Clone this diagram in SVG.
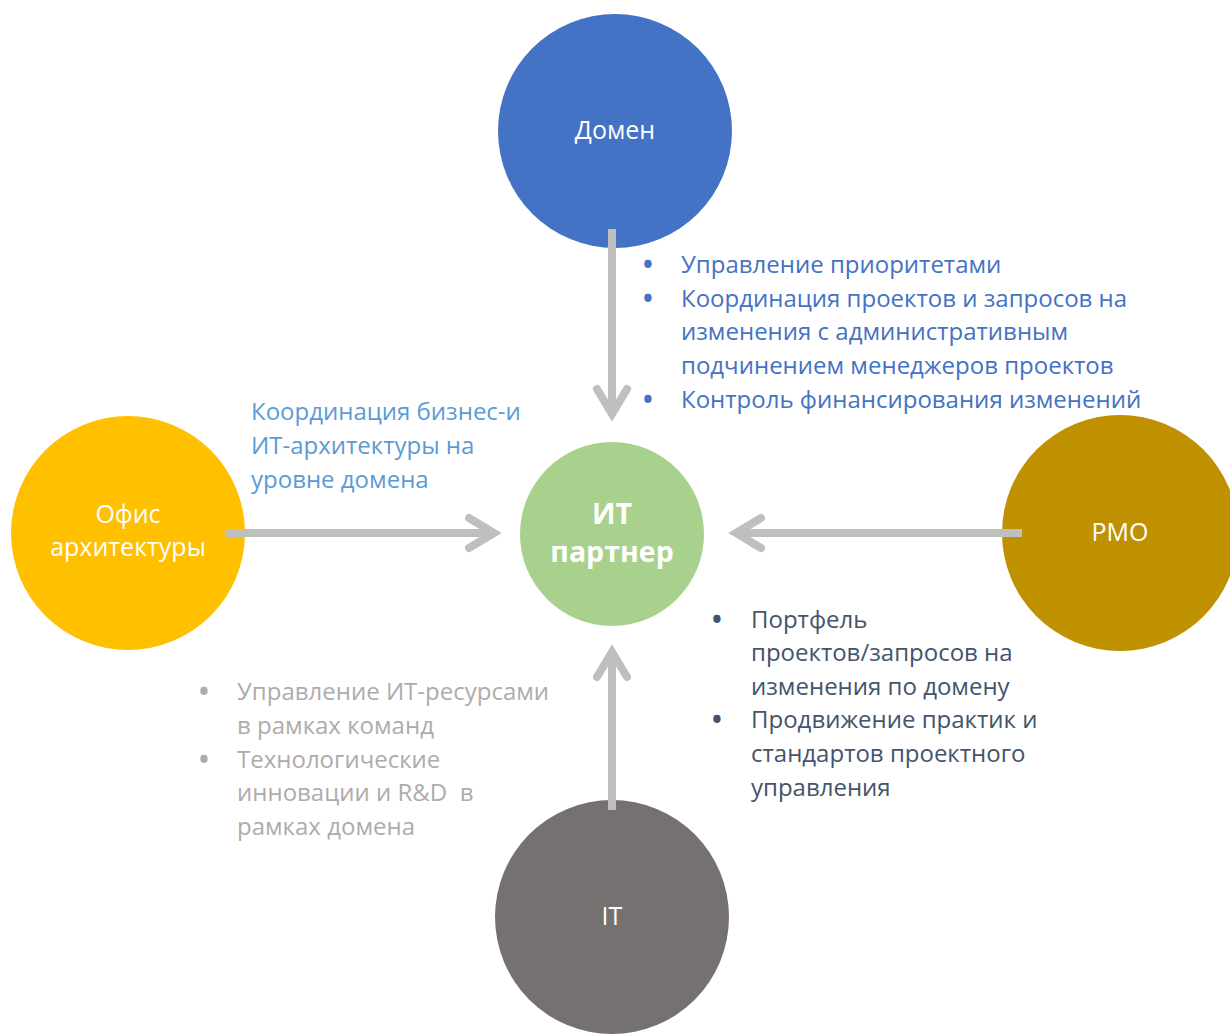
<svg xmlns="http://www.w3.org/2000/svg" width="1230" height="1036" viewBox="0 0 1230 1036">
<style>
text{font-family:"Open Sans","Noto Sans",sans-serif;}
.lbl{fill:#fff;font-size:25px;text-anchor:middle;}
.dom{fill:#4472C4;font-size:24px;}
.arc{fill:#5B9BD5;font-size:24px;}
.pmo{fill:#44546A;font-size:24px;}
.it{fill:#AFABAB;font-size:24px;}
.b{font-size:26px;font-weight:bold;}
.arr{stroke:#BFBFBF;stroke-width:8;fill:none;}
.head{stroke:#BFBFBF;stroke-width:8;fill:none;stroke-linecap:round;stroke-linejoin:miter;}
</style>
<rect width="1230" height="1036" fill="#fff"/>
<g id="node-domain"><circle cx="615" cy="131" r="117" fill="#4472C4"/><text class="lbl" x="615" y="139">Домен</text></g>
<g id="node-arch"><circle cx="128" cy="533" r="117" fill="#FFC000"/><text class="lbl" x="128" y="523">Офис</text><text class="lbl" x="128" y="556">архитектуры</text></g>
<g id="node-pmo"><circle cx="1120" cy="533" r="118" fill="#BF9000"/><text class="lbl" x="1120" y="541">PMO</text></g>
<g id="node-it"><circle cx="612" cy="917" r="117" fill="#767171"/><text class="lbl" x="612" y="925">IT</text></g>
<g id="node-partner"><circle cx="612" cy="534" r="92" fill="#A9D18E"/><text x="612" y="524" fill="#fff" font-size="28.5" font-weight="bold" text-anchor="middle">ИТ</text><text x="612" y="562" fill="#fff" font-size="28.5" font-weight="bold" text-anchor="middle">партнер</text></g>
<g id="connectors">
<line class="arr" x1="612" y1="229" x2="612" y2="414"/>
<polyline class="head" points="597,389 612,414 627,389"/>
<line class="arr" x1="225" y1="533" x2="494" y2="533"/>
<polyline class="head" points="469,518 494,533 469,548"/>
<line class="arr" x1="1022" y1="533" x2="736" y2="533"/>
<polyline class="head" points="761,518 736,533 761,548"/>
<line class="arr" x1="612" y1="810" x2="612" y2="652"/>
<polyline class="head" points="597,677 612,652 627,677"/>
</g>
<g id="text-domain">
<text class="dom b" x="643" y="274">•</text><text class="dom" x="681" y="273">Управление приоритетами</text>
<text class="dom b" x="643" y="308">•</text><text class="dom" x="681" y="307">Координация проектов и запросов на</text>
<text class="dom" x="681" y="340">изменения с административным</text>
<text class="dom" x="681" y="374">подчинением менеджеров проектов</text>
<text class="dom b" x="643" y="409">•</text><text class="dom" x="681" y="408">Контроль финансирования изменений</text>
</g>
<g id="text-arch">
<text class="arc" x="251" y="420">Координация бизнес-и</text>
<text class="arc" x="251" y="454">ИТ-архитектуры на</text>
<text class="arc" x="251" y="488">уровне домена</text>
</g>
<g id="text-pmo">
<text class="pmo b" x="712" y="629">•</text><text class="pmo" x="751" y="628">Портфель</text>
<text class="pmo" x="751" y="661">проектов/запросов на</text>
<text class="pmo" x="751" y="695">изменения по домену</text>
<text class="pmo b" x="712" y="729">•</text><text class="pmo" x="751" y="728">Продвижение практик и</text>
<text class="pmo" x="751" y="762">стандартов проектного</text>
<text class="pmo" x="751" y="796">управления</text>
</g>
<g id="text-it">
<text class="it b" x="199" y="701">•</text><text class="it" x="237" y="700">Управление ИТ-ресурсами</text>
<text class="it" x="237" y="734">в рамках команд</text>
<text class="it b" x="199" y="769">•</text><text class="it" x="237" y="768">Технологические</text>
<text class="it" x="237" y="801">инновации и R&amp;D&#160; в</text>
<text class="it" x="237" y="835">рамках домена</text>
</g>
</svg>
